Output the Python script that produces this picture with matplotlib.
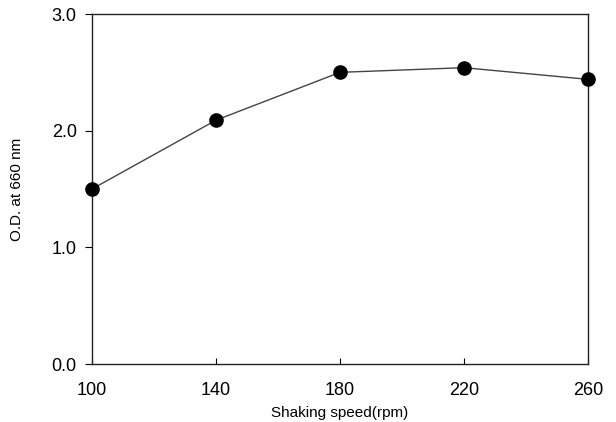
import matplotlib
matplotlib.use("Agg")
import matplotlib.pyplot as plt

speeds = [100, 140, 180, 220, 260]
od660 = [1.50, 2.09, 2.50, 2.54, 2.44]
x_ticks = [100, 140, 180, 220, 260]
y_ticks = [0.0, 1.0, 2.0, 3.0]

plt.rcParams['font.family'] = ['Liberation Sans', 'DejaVu Sans']

fig = plt.figure(figsize=(6.16, 4.22), dpi=100)
ax = fig.add_axes([0.1494, 0.1374, 0.8051, 0.8294])

ax.plot(speeds, od660, '-', color='#444444', lw=1.0, zorder=2)
ax.plot(speeds, od660, 'o', color='black', markersize=9.5, zorder=3, clip_on=False)

ax.set_xlim(100, 260)
ax.set_ylim(0, 3.0)
ax.set_xticks(x_ticks)
ax.set_yticks(y_ticks)
ax.set_yticklabels(['{:.1f}'.format(v) for v in y_ticks])

ax.tick_params(axis='x', direction='in', length=4, width=0.8, labelsize=13, pad=13)
ax.tick_params(axis='y', direction='out', length=5, width=0.8, labelsize=13, pad=6)

for s in ax.spines.values():
    s.set_linewidth(1.0)
    s.set_color('#222222')

ax.set_xlabel('Shaking speed(rpm)', fontsize=11, labelpad=5)
ax.set_ylabel('O.D. at 660 nm', fontsize=11, labelpad=20)

fig.savefig('out.png', dpi=100)
